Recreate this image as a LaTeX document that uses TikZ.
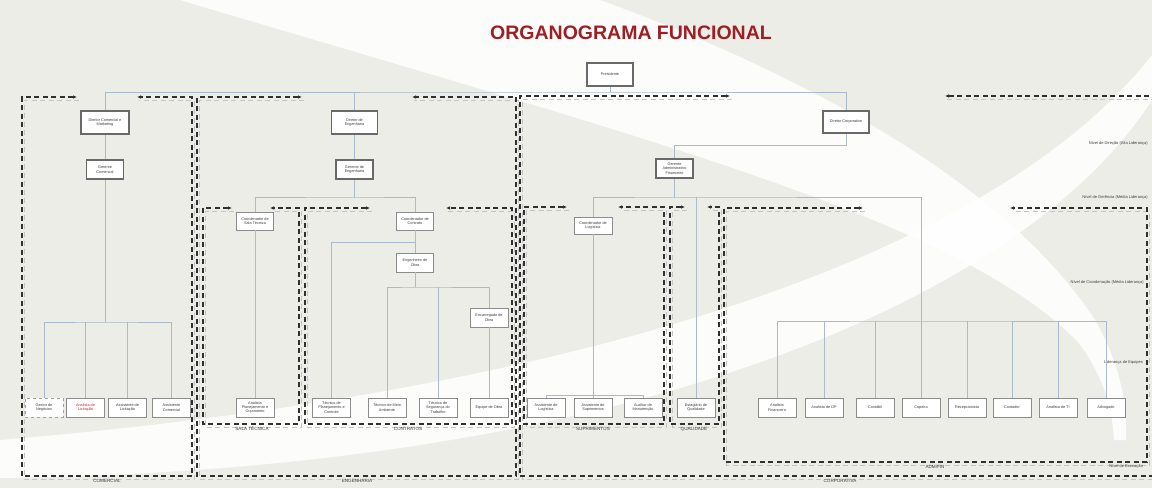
\documentclass[tikz,border=0pt]{standalone}
\usepackage{fontspec}
\setmainfont{Liberation Sans}
\usetikzlibrary{arrows.meta}

\definecolor{bgpaper}{RGB}{237,237,232}
\definecolor{titlered}{RGB}{158,30,36}
\definecolor{linkblue}{RGB}{168,186,204}
\definecolor{boxdark}{RGB}{105,105,105}
\definecolor{boxgrey}{RGB}{140,140,140}
\definecolor{grpdark}{RGB}{48,48,48}
\definecolor{grpshade}{RGB}{196,196,192}
\definecolor{txtgrey}{RGB}{60,60,60}
\definecolor{alertred}{RGB}{200,40,40}

\newcommand\nodetxt{\fontsize{3.8}{4.4}\selectfont}
\newcommand\tagtxt{\fontsize{4.6}{5}\selectfont}
\newcommand\leveltxt{\fontsize{4}{4.5}\selectfont}

% dashed outlines of the functional areas
\newcommand\areaComercial{(77,97) -- (22,97) -- (22,476) -- (192,476) -- (192,97) -- (137,97)}
\newcommand\areaEngenharia{(302,97) -- (197,97) -- (197,476) -- (516,476) -- (516,97) -- (412,97)}
\newcommand\areaCorporativa{(730,96) -- (520,96) -- (520,476) -- (1160,476)}
\newcommand\areaCorporativaTop{(945,96) -- (1160,96)}
\newcommand\areaSala{(232,208) -- (203,208) -- (203,424) -- (299,424) -- (299,208) -- (270,208)}
\newcommand\areaContratos{(370,208) -- (305,208) -- (305,424) -- (512,424) -- (512,208) -- (446,208)}
\newcommand\areaSuprimentos{(567,207) -- (524,207) -- (524,424) -- (664,424) -- (664,207) -- (618,207)}
\newcommand\areaQualidade{(685,207) -- (670,207) -- (670,424) -- (719,424) -- (719,207) -- (707,207)}
\newcommand\areaAdm{(863,208) -- (724,208) -- (724,462) -- (1147,462) -- (1147,208) -- (1010,208)}

\tikzset{
  lead/.style={draw=boxdark, line width=1.5pt, fill=white, inner sep=0pt,
    align=center, text=txtgrey, font=\nodetxt},
  unit/.style={draw=boxgrey, line width=0.7pt, fill=white, inner sep=0pt,
    align=center, text=txtgrey, font=\nodetxt, minimum width=38pt, minimum height=19pt},
  link/.style={draw=linkblue, line width=0.75pt},
  grp/.style={draw=grpdark, line width=1.3pt, dash pattern=on 5pt off 3.5pt},
  grpshadow/.style={draw=grpshade, line width=0.9pt, dash pattern=on 5pt off 3.5pt, shift={(2,3)}},
  grptag/.style={font=\tagtxt, text=txtgrey, inner sep=0.5pt},
  leveltag/.style={font=\leveltxt, text=txtgrey, anchor=east, inner sep=0pt},
  band/.style={fill=white, fill opacity=0.85, draw=none},
  >={Latex[length=4pt,width=3.6pt]}
}

\begin{document}
\begin{tikzpicture}[x=1pt, y=-1pt]
\useasboundingbox (0,0) rectangle (1152,488);
\clip (0,0) rectangle (1152,488);
\fill[bgpaper] (0,0) rectangle (1152,488);

% white sweeping bands of the backdrop
\fill[band] (600,0) .. controls (820,80) and (1010,190) .. (1095,320)
  .. controls (1115,355) and (1128,395) .. (1126,440)
  -- (1114,440) .. controls (1112,400) and (1098,368) .. (1078,342)
  .. controls (960,220) and (650,140) .. (180,0) -- cycle;
\fill[band] (1152,55) .. controls (1000,250) and (600,390) .. (0,440)
  -- (0,478) .. controls (650,470) and (1030,290) .. (1152,100) -- cycle;

% title
\node[font=\fontsize{19.5}{22}\selectfont\bfseries, text=titlered] (title) at (631,33) {ORGANOGRAMA FUNCIONAL};

% area outlines
\foreach \p in {\areaComercial,\areaEngenharia,\areaCorporativa,\areaCorporativaTop,\areaSala,\areaContratos,\areaSuprimentos,\areaQualidade,\areaAdm}
  \draw[grpshadow] \p;
\draw[grp,<->] \areaComercial;
\draw[grp,<->] \areaEngenharia;
\draw[grp,<-] \areaCorporativa;
\draw[grp,<-] \areaCorporativaTop;
\draw[grp,<->] \areaSala;
\draw[grp,<->] \areaContratos;
\draw[grp,<->] \areaSuprimentos;
\draw[grp,<->] \areaQualidade;
\draw[grp,<->] \areaAdm;

% area names
\node[grptag] (tcom) at (107,481) {COMERCIAL};
\node[grptag] (teng) at (357,481) {ENGENHARIA};
\node[grptag] (tcorp) at (840,481) {CORPORATIVA};
\node[grptag] (tsala) at (252,429) {SALA TÉCNICA};
\node[grptag] (tcont) at (408,429) {CONTRATOS};
\node[grptag] (tsup) at (593,429) {SUPRIMENTOS};
\node[grptag] (tqual) at (694,429) {QUALIDADE};
\node[grptag] (tadm) at (935,467) {ADM/FIN};

% hierarchy levels
\node[leveltag] (lv1) at (1148,143) {Nível de Direção (Alta Liderança)};
\node[leveltag] (lv2) at (1148,197) {Nível de Gerência (Média Liderança)};
\node[leveltag] (lv3) at (1144,282) {Nível de Coordenação (Média Liderança)};
\node[leveltag] (lv4) at (1143,362) {Liderança de Equipes};
\node[leveltag] (lv5) at (1143,466) {Nível de Execução};

% direction and management
\node[lead, minimum width=46pt, minimum height=23pt] (pres) at (610,74.5) {Presidente};
\node[lead, minimum width=48pt, minimum height=23pt] (dcom) at (105,122.5) {Diretor Comercial e\\Marketing};
\node[lead, minimum width=37pt, minimum height=19pt] (gcom) at (105,169.5) {Gerente\\Comercial};
\node[lead, minimum width=46pt, minimum height=23pt] (deng) at (354.5,122.5) {Diretor de\\Engenharia};
\node[lead, minimum width=37pt, minimum height=19pt] (geng) at (354.5,169.5) {Gerente de\\Engenharia};
\node[lead, minimum width=46pt, minimum height=22pt] (dcorp) at (846,122) {Diretor Corporativo};
\node[lead, line width=1.1pt, minimum width=37pt, minimum height=19pt] (gadm) at (674.5,168.5) {Gerente\\Administrativo\\Financeiro};

% coordination
\node[unit, minimum width=37pt, minimum height=18pt] (csala) at (255,221) {Coordenador de\\Sala Técnica};
\node[unit, minimum width=37pt, minimum height=18pt] (ccont) at (415,221) {Coordenador de\\Contrato};
\node[unit, minimum width=37pt] (eobra) at (415,262.5) {Engenheiro de\\Obra};
\node[unit] (encobra) at (489,317.5) {Encarregado de\\Obra};
\node[unit, minimum height=17pt] (clog) at (593,225.5) {Coordenador de\\Logística};

% execution
\node[unit, dashed, draw=boxgrey!80] (gneg) at (44,407.5) {Gestor de\\Negócios};
\node[unit, text=alertred] (alic) at (85.5,407.5) {Analista de\\Licitação};
\node[unit] (aslic) at (127.5,407.5) {Assistente de\\Licitação};
\node[unit] (ascom) at (171.5,407.5) {Assistente\\Comercial};
\node[unit] (aplan) at (255,407.5) {Analista\\Planejamento e\\Orçamento};
\node[unit] (tpc) at (331.5,407.5) {Técnico de\\Planejamento e\\Controle};
\node[unit] (tma) at (387,407.5) {Técnico de Meio\\Ambiente};
\node[unit] (tst) at (438,407.5) {Técnico de\\Segurança do\\Trabalho};
\node[unit] (eqobra) at (489,407.5) {Equipe de Obra};
\node[unit] (alog) at (546,407.5) {Assistente de\\Logística};
\node[unit] (asup) at (593,407.5) {Assistente de\\Suprimentos};
\node[unit] (aman) at (643,407.5) {Auxiliar de\\Manutenção};
\node[unit] (equal) at (696,407.5) {Estagiário de\\Qualidade};
\node[unit] (afin) at (777,407.5) {Analista\\Financeiro};
\node[unit] (adp) at (824,407.5) {Analista de DP};
\node[unit] (contab) at (875,407.5) {Contábil};
\node[unit] (cop) at (921,407.5) {Copeira};
\node[unit] (recep) at (967,407.5) {Recepcionista};
\node[unit] (contad) at (1012,407.5) {Contador};
\node[unit] (ati) at (1058,407.5) {Analista de TI};
\node[unit] (adv) at (1106,407.5) {Advogado};

% junction points
\coordinate (j0) at (610,92);
\coordinate (j1) at (105,322);
\coordinate (j2) at (354.5,197);
\coordinate (j3) at (415,242);
\coordinate (j4) at (415,287);
\coordinate (j5) at (674.5,145);
\coordinate (j6) at (674.5,197);
\coordinate (j7) at (921,321);

% connectors
\draw[link] (pres) -- (j0);
\draw[link] (dcom.north) |- (j0) -| (dcorp.north);
\draw[link] (deng.north) -- (deng.north |- j0);

\draw[link] (dcom) -- (gcom);
\draw[link] (gcom) -- (j1);
\draw[link] (gneg.north) |- (j1) -| (ascom.north);
\draw[link] (alic.north) -- (alic.north |- j1);
\draw[link] (aslic.north) -- (aslic.north |- j1);

\draw[link] (deng) -- (geng);
\draw[link] (geng) -- (j2);
\draw[link] (csala.north) |- (j2) -| (ccont.north);
\draw[link] (csala) -- (aplan);
\draw[link] (ccont) -- (eobra);
\draw[link] (tpc.north) |- (j3);
\draw[link] (eobra) -- (j4);
\draw[link] (tma.north) |- (j4) -| (encobra.north);
\draw[link] (tst.north) -- (tst.north |- j4);
\draw[link] (encobra) -- (eqobra);

\draw[link] (dcorp.south) |- (j5) -- (gadm.north);
\draw[link] (gadm) -- (j6);
\draw[link] (clog.north) |- (j6) -| (j7);
\draw[link] (equal.north) -- (equal.north |- j6);
\draw[link] (clog) -- (asup);
\draw[link] (alog.north) -- ++(0,-2.5) -| (aman.north);
\draw[link] (afin.north) |- (j7) -| (adv.north);
\foreach \n in {adp,contab,cop,recep,contad,ati}
  \draw[link] (\n.north) -- (\n.north |- j7);
\end{tikzpicture}
\end{document}
